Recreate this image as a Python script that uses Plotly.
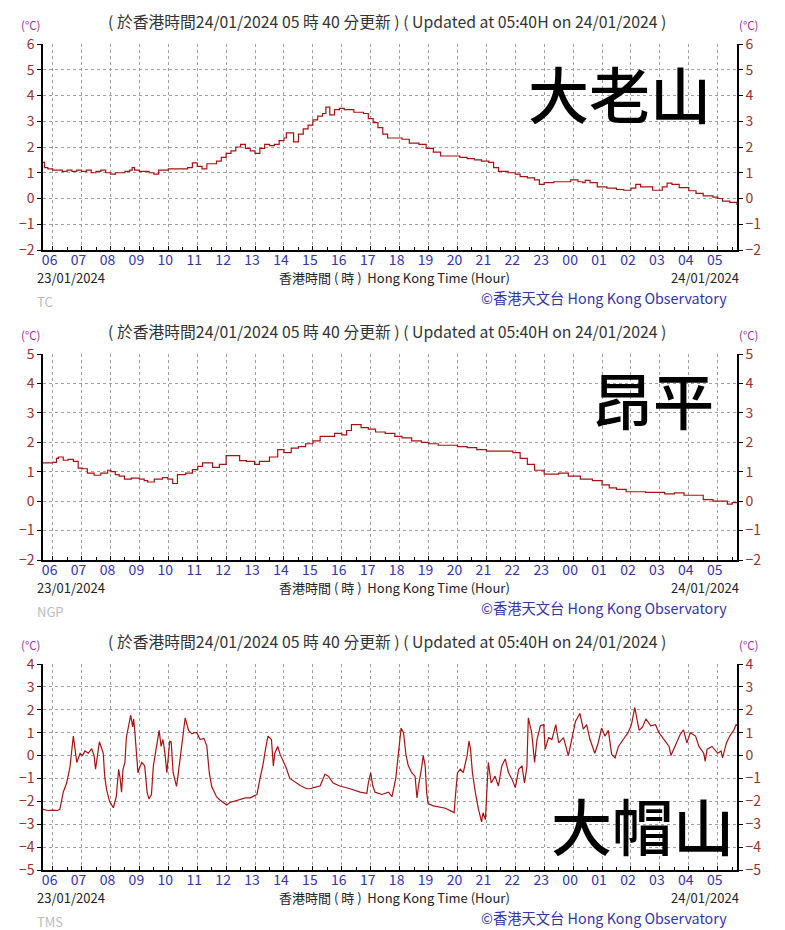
import plotly.graph_objects as go

# ---------------- data ----------------
TC_TIMES = ["05:40","05:43","05:50","06:00","06:10","06:20","06:30","06:40","06:50","07:00","07:10","07:20","07:30","07:40","07:50",
            "08:00","08:10","08:20","08:30","08:40","08:45","08:50","09:00","09:10","09:20","09:30","09:40","09:50","10:00","10:10",
            "10:20","10:30","10:40","10:50","11:00","11:10","11:20","11:30","11:40","11:50","12:00","12:10","12:20","12:30","12:40",
            "12:50","13:00","13:10","13:20","13:30","13:40","13:50","14:00","14:05","14:10","14:20","14:30","14:40","14:50","15:00",
            "15:10","15:20","15:27","15:35","15:45","15:55","16:05","16:15","16:25","16:35","16:45","16:55","17:05","17:15","17:25",
            "17:35","17:50","18:05","18:20","18:40","18:55","19:10","19:25","19:45","20:05","20:20","20:35","20:50","21:05","21:15",
            "21:25","21:45","22:00","22:10","22:25","22:40","22:50","23:00","23:20","23:45","23:55","00:10","00:20","00:25","00:35",
            "00:50","01:10","01:30","01:45","02:00","02:10","02:20","02:45","03:05","03:15","03:25","03:40","04:00","04:15","04:30",
            "04:50","05:00","05:10","05:25","05:40"]
TC_VALUES = [1.4,1.2,1.15,1.1,1.1,1.05,1.1,1.05,1.1,1.05,1.1,1.0,1.05,1.1,1.0,
             0.95,1.0,1.0,1.05,1.1,1.2,1.1,1.05,1.05,1.0,0.95,1.1,1.1,1.15,1.15,
             1.15,1.15,1.2,1.38,1.25,1.15,1.35,1.35,1.45,1.6,1.75,1.85,2.0,2.1,1.95,
             1.85,1.75,1.95,2.1,2.05,2.1,2.25,2.35,2.55,2.55,2.2,2.5,2.7,2.85,3.05,
             3.2,3.3,3.55,3.25,3.45,3.5,3.45,3.45,3.35,3.35,3.3,3.1,2.95,2.75,2.5,
             2.35,2.35,2.3,2.15,2.1,1.95,1.8,1.65,1.65,1.6,1.55,1.5,1.45,1.4,1.2,
             1.05,1.0,0.95,0.85,0.8,0.72,0.55,0.62,0.65,0.65,0.72,0.65,0.62,0.7,0.62,
             0.45,0.4,0.35,0.32,0.4,0.55,0.45,0.32,0.45,0.6,0.55,0.42,0.3,0.2,0.1,
             0.05,0.0,-0.1,-0.15,-0.25]

NGP_TIMES = ["05:40","06:00","06:08","06:12","06:22","06:32","06:43","06:53","07:02","07:12","07:26","07:40","07:54","08:01","08:10",
             "08:18","08:29","08:43","09:00","09:10","09:17","09:31","09:48","09:59","10:09","10:19","10:36","10:50","11:01","11:11",
             "11:25","11:32","11:46","12:00","12:17","12:28","12:42","12:59","13:09","13:30","13:47","14:00","14:15","14:30","14:45",
             "15:00","15:15","15:30","15:45","16:00","16:10","16:20","16:30","16:40","16:55","17:10","17:30","17:50","18:05","18:25",
             "18:45","19:00","19:20","19:40","20:00","20:20","20:40","21:00","21:30","21:55","22:10","22:25","22:40","23:00","23:30",
             "23:50","00:15","00:40","01:00","01:15","01:30","01:50","02:10","02:30","02:50","03:10","03:30","03:50","04:10","04:30",
             "04:50","05:10","05:20","05:30","05:40"]
NGP_VALUES = [1.3,1.32,1.45,1.5,1.39,1.42,1.35,1.12,1.1,0.95,0.88,0.95,1.05,1.0,0.9,
              0.85,0.75,0.78,0.75,0.7,0.65,0.75,0.8,0.75,0.6,0.9,0.95,1.07,1.18,1.3,
              1.3,1.15,1.25,1.55,1.55,1.38,1.35,1.25,1.35,1.5,1.75,1.65,1.8,1.85,1.95,
              2.05,2.2,2.2,2.3,2.25,2.4,2.6,2.6,2.5,2.45,2.35,2.3,2.2,2.15,2.05,
              2.0,1.95,1.9,1.9,1.85,1.82,1.75,1.7,1.7,1.65,1.45,1.25,1.05,0.92,0.95,
              0.85,0.75,0.7,0.55,0.45,0.4,0.32,0.32,0.3,0.3,0.25,0.28,0.2,0.2,0.05,
              0.0,0.0,-0.1,-0.05,-0.05]

TMS_TIMES = ["05:40","05:50","06:00","06:10","06:15","06:19","06:22","06:29","06:36","06:40","06:43","06:47","06:50","06:57","07:02",
             "07:07","07:14","07:21","07:26","07:29","07:32","07:37","07:42","07:45","07:48","07:52","07:58","08:06","08:12","08:15",
             "08:17","08:20","08:23","08:26","08:30","08:33","08:38","08:42","08:46","08:48","08:50","08:54","08:57","09:01","09:05",
             "09:11","09:16","09:20","09:25","09:29","09:36","09:41","09:45","09:49","09:53","09:57","10:03","10:06","10:10","10:14",
             "10:17","10:20","10:24","10:30","10:35","10:42","10:49","10:54","10:59","11:06","11:14","11:20","11:25","11:30","11:40",
             "11:47","12:01","12:08","12:15","12:22","12:29","12:40","12:50","12:58","13:04","13:10","13:16","13:24","13:27","13:34",
             "13:38","13:41","13:47","13:52","13:59","14:04","14:12","14:19","14:33","14:47","14:55","15:01","15:15","15:25","15:32",
             "15:42","15:56","16:17","16:38","16:52","16:55","17:00","17:04","17:09","17:23","17:37","17:44","17:52","17:59","18:03",
             "18:08","18:13","18:18","18:25","18:32","18:36","18:40","18:44","18:49","18:53","18:56","18:59","19:10","19:20","19:35",
             "19:49","19:53","19:55","20:00","20:06","20:12","20:20","20:24","20:27","20:31","20:37","20:43","20:50","20:53","20:58",
             "21:00","21:04","21:07","21:10","21:18","21:25","21:32","21:39","21:46","21:53","22:00","22:07","22:14","22:19","22:24",
             "22:27","22:34","22:40","22:45","22:52","22:59","23:02","23:09","23:16","23:24","23:30","23:40","23:50","23:57","00:05",
             "00:14","00:21","00:28","00:35","00:45","00:52","00:59","01:06","01:13","01:20","01:27","01:34","01:44","01:54","02:01",
             "02:08","02:11","02:17","02:24","02:31","02:41","02:51","02:58","03:08","03:19","03:23","03:32","03:42","03:49","03:56",
             "04:03","04:14","04:21","04:31","04:34","04:38","04:48","05:00","05:07","05:10","05:18","05:25","05:33","05:38","05:40"]
TMS_VALUES = [-2.35,-2.4,-2.38,-2.4,-2.35,-2.0,-1.6,-1.2,-0.5,0.3,0.85,0.2,-0.3,0.1,0.0,
              0.2,0.1,0.3,0.0,-0.6,-0.1,0.6,0.3,0.1,-0.9,-1.5,-2.0,-2.28,-1.8,-1.2,
              -0.6,-1.0,-1.6,-0.6,-0.3,0.8,1.3,1.77,1.25,1.6,1.2,0.0,-0.75,-0.5,-0.3,
              -0.45,-1.6,-1.9,-1.7,-0.45,0.55,1.1,0.4,0.7,0.1,-0.75,0.63,0.6,-0.75,-1.1,
              -1.35,-0.9,-0.15,0.7,1.65,1.1,0.95,1.0,1.0,0.7,0.75,0.4,-0.75,-1.35,-1.8,
              -1.94,-2.16,-2.05,-2.0,-1.95,-1.9,-1.85,-1.85,-1.75,-1.7,-1.03,-0.45,0.55,0.85,0.7,
              -0.45,0.1,0.4,0.05,-0.25,-0.5,-1.0,-1.1,-1.3,-1.45,-1.45,-1.4,-1.33,-0.82,-0.9,
              -1.2,-1.33,-1.45,-1.6,-1.65,-1.2,-0.75,-1.3,-1.6,-1.7,-1.6,-1.8,-1.0,0.4,1.2,
              1.0,0.05,-0.45,-0.75,-0.9,-1.85,-1.2,-0.75,0.0,-0.45,-1.6,-2.1,-2.2,-2.25,-2.3,
              -2.45,-2.5,-1.95,-0.75,-0.6,-0.75,0.0,0.63,0.3,-0.75,-1.6,-2.3,-2.9,-2.5,-2.8,
              -1.8,-0.3,-0.75,-1.2,-0.9,-1.33,-0.45,-0.15,-0.75,-1.03,-1.4,-0.6,-0.45,-1.2,-0.5,
              1.65,1.0,-0.3,0.7,1.3,1.35,0.28,0.78,0.7,1.35,0.55,0.78,0.0,0.7,1.5,
              1.84,1.15,1.35,0.7,0.1,0.55,1.2,0.85,1.1,0.05,-0.1,0.4,0.7,1.0,1.35,
              2.1,1.75,1.1,1.25,1.6,1.3,1.35,1.0,0.7,0.4,0.0,0.4,0.92,1.12,0.55,
              1.0,0.85,0.4,0.1,-0.25,0.28,0.4,0.1,0.2,-0.1,0.55,0.85,1.1,1.35,1.3]

STATION_NAMES = ["大老山", "昂平", "大帽山"]
STATION_CODES = ["TC", "NGP", "TMS"]
Y_RANGES = [(-2, 6), (-2, 5), (-5, 4)]
X_TICK_LABEL_FMT = "%H"
UPDATE_TEXT = "( 於香港時間24/01/2024 05 時 40 分更新 ) ( Updated at 05:40H on 24/01/2024 )"
START_DATE = "23/01/2024"
END_DATE = "24/01/2024"
X_TITLE = "香港時間 ( 時 )  Hong Kong Time (Hour)"
CREDIT = "©香港天文台 Hong Kong Observatory"
UNIT = "(°C)"


def to_dt(times):
    out, day, prev = [], 23, None
    for s in times:
        h, m = map(int, s.split(":"))
        mins = h * 60 + m
        if prev is not None and mins < prev:
            day += 1
        prev = mins
        out.append(f"2024-01-{day:02d} {h:02d}:{m:02d}")
    return out


SERIES = [(TC_TIMES, TC_VALUES, "hv"), (NGP_TIMES, NGP_VALUES, "hv"), (TMS_TIMES, TMS_VALUES, "linear")]

# ---------------- layout geometry ----------------
W, H = 785, 930
XL, XR = 43, 737
TOPS = [44, 354, 664]
PH = 206
FONT = "Noto Sans CJK TC"
LINE_COLOR = "#a81212"
GRID_COLOR = "#a0a0a0"
TICK_RED = "#9a3030"
TICK_BLUE = "#3535a8"


def px(x):
    return x / W


def py(y):
    return 1 - y / H


fig = go.Figure()
layout = dict(width=W, height=H, margin=dict(l=0, r=0, t=0, b=0, autoexpand=False),
              paper_bgcolor="white", plot_bgcolor="white", showlegend=False,
              font=dict(family=FONT, size=13, color="#222"))
annotations = []

for i in range(3):
    n = i + 1
    top = TOPS[i]
    bot = top + PH
    ydom = [py(bot), py(top)]
    xs = "" if n == 1 else str(n)
    times, vals, shape = SERIES[i]
    fig.add_trace(go.Scatter(x=to_dt(times), y=vals, mode="lines",
                             line=dict(color=LINE_COLOR, width=1.2, shape=shape),
                             xaxis="x" + xs, yaxis="y" + xs, hoverinfo="skip"))
    fig.add_trace(go.Scatter(x=[], y=[], mode="lines", xaxis="x" + xs, yaxis="y" + str(n + 3), hoverinfo="skip"))

    layout["xaxis" + xs] = dict(
        domain=[px(XL), px(XR)], anchor="y" + xs, type="date", automargin=False,
        range=["2024-01-23 05:40", "2024-01-24 05:40"],
        tick0="2024-01-23 06:00", dtick=3600000, tickformat=X_TICK_LABEL_FMT,
        showgrid=True, gridcolor=GRID_COLOR, griddash="3px,3px", gridwidth=1,
        showline=True, linecolor="black", linewidth=1.5,
        ticks="inside", ticklen=4, tickcolor="black",
        minor=dict(dtick=1800000, ticks="inside", ticklen=3, tickcolor="black", showgrid=False),
        tickfont=dict(family=FONT, size=14, color=TICK_BLUE),
        ticklabelshift=-3, ticklabelstandoff=-4, zeroline=False, fixedrange=True)
    yr = Y_RANGES[i]
    common_y = dict(range=list(yr), dtick=1, tick0=0, showline=True, linecolor="black", linewidth=1.5,
                    ticks="outside", ticklen=4, tickcolor="black", zeroline=False, automargin=False,
                    tickfont=dict(family=FONT, size=14, color=TICK_RED), fixedrange=True)
    layout["yaxis" + xs] = dict(domain=ydom, anchor="x" + xs, showgrid=True, gridcolor=GRID_COLOR,
                                griddash="3px,3px", gridwidth=1, **common_y)
    layout["yaxis" + str(n + 3)] = dict(overlaying="y" + xs, side="right", anchor="x" + xs,
                                        showgrid=False, **common_y)

    annotations += [
        dict(text=UPDATE_TEXT, x=px(387), y=py(top - 23), xanchor="center", yanchor="middle",
             font=dict(size=15.8, color="#333")),
        dict(text=UNIT, x=px(30), y=py(top - 19), xanchor="center", yanchor="middle",
             font=dict(size=11.5, color="#9a349a")),
        dict(text=UNIT, x=px(748), y=py(top - 19), xanchor="center", yanchor="middle",
             font=dict(size=11.5, color="#9a349a")),
        dict(text=START_DATE, x=px(35), y=py(bot + 27), xanchor="left", yanchor="middle",
             font=dict(size=13, color="#222")),
        dict(text=X_TITLE, x=px(394), y=py(bot + 27), xanchor="center", yanchor="middle",
             font=dict(size=13, color="#222")),
        dict(text=END_DATE, x=px(741), y=py(bot + 27), xanchor="right", yanchor="middle",
             font=dict(size=13, color="#222")),
        dict(text=CREDIT, x=px(729), y=py(bot + 47), xanchor="right", yanchor="middle",
             font=dict(size=14.3, color=TICK_BLUE)),
        dict(text=STATION_CODES[i], x=px(35), y=py(bot + 51), xanchor="left", yanchor="middle",
             font=dict(size=13, color="#bbbbbb")),
    ]

# big station names
name_pos = [(713, 93), (716, 398), (736, 824)]
for i, (nx, ny) in enumerate(name_pos):
    annotations.append(dict(text=STATION_NAMES[i], x=px(nx), y=py(ny), xanchor="right", yanchor="middle",
                            font=dict(size=61, color="black", family=FONT, weight=500)))

for a in annotations:
    a.update(xref="paper", yref="paper", showarrow=False)
layout["annotations"] = annotations
fig.update_layout(**layout)
fig.write_html("out.html")
